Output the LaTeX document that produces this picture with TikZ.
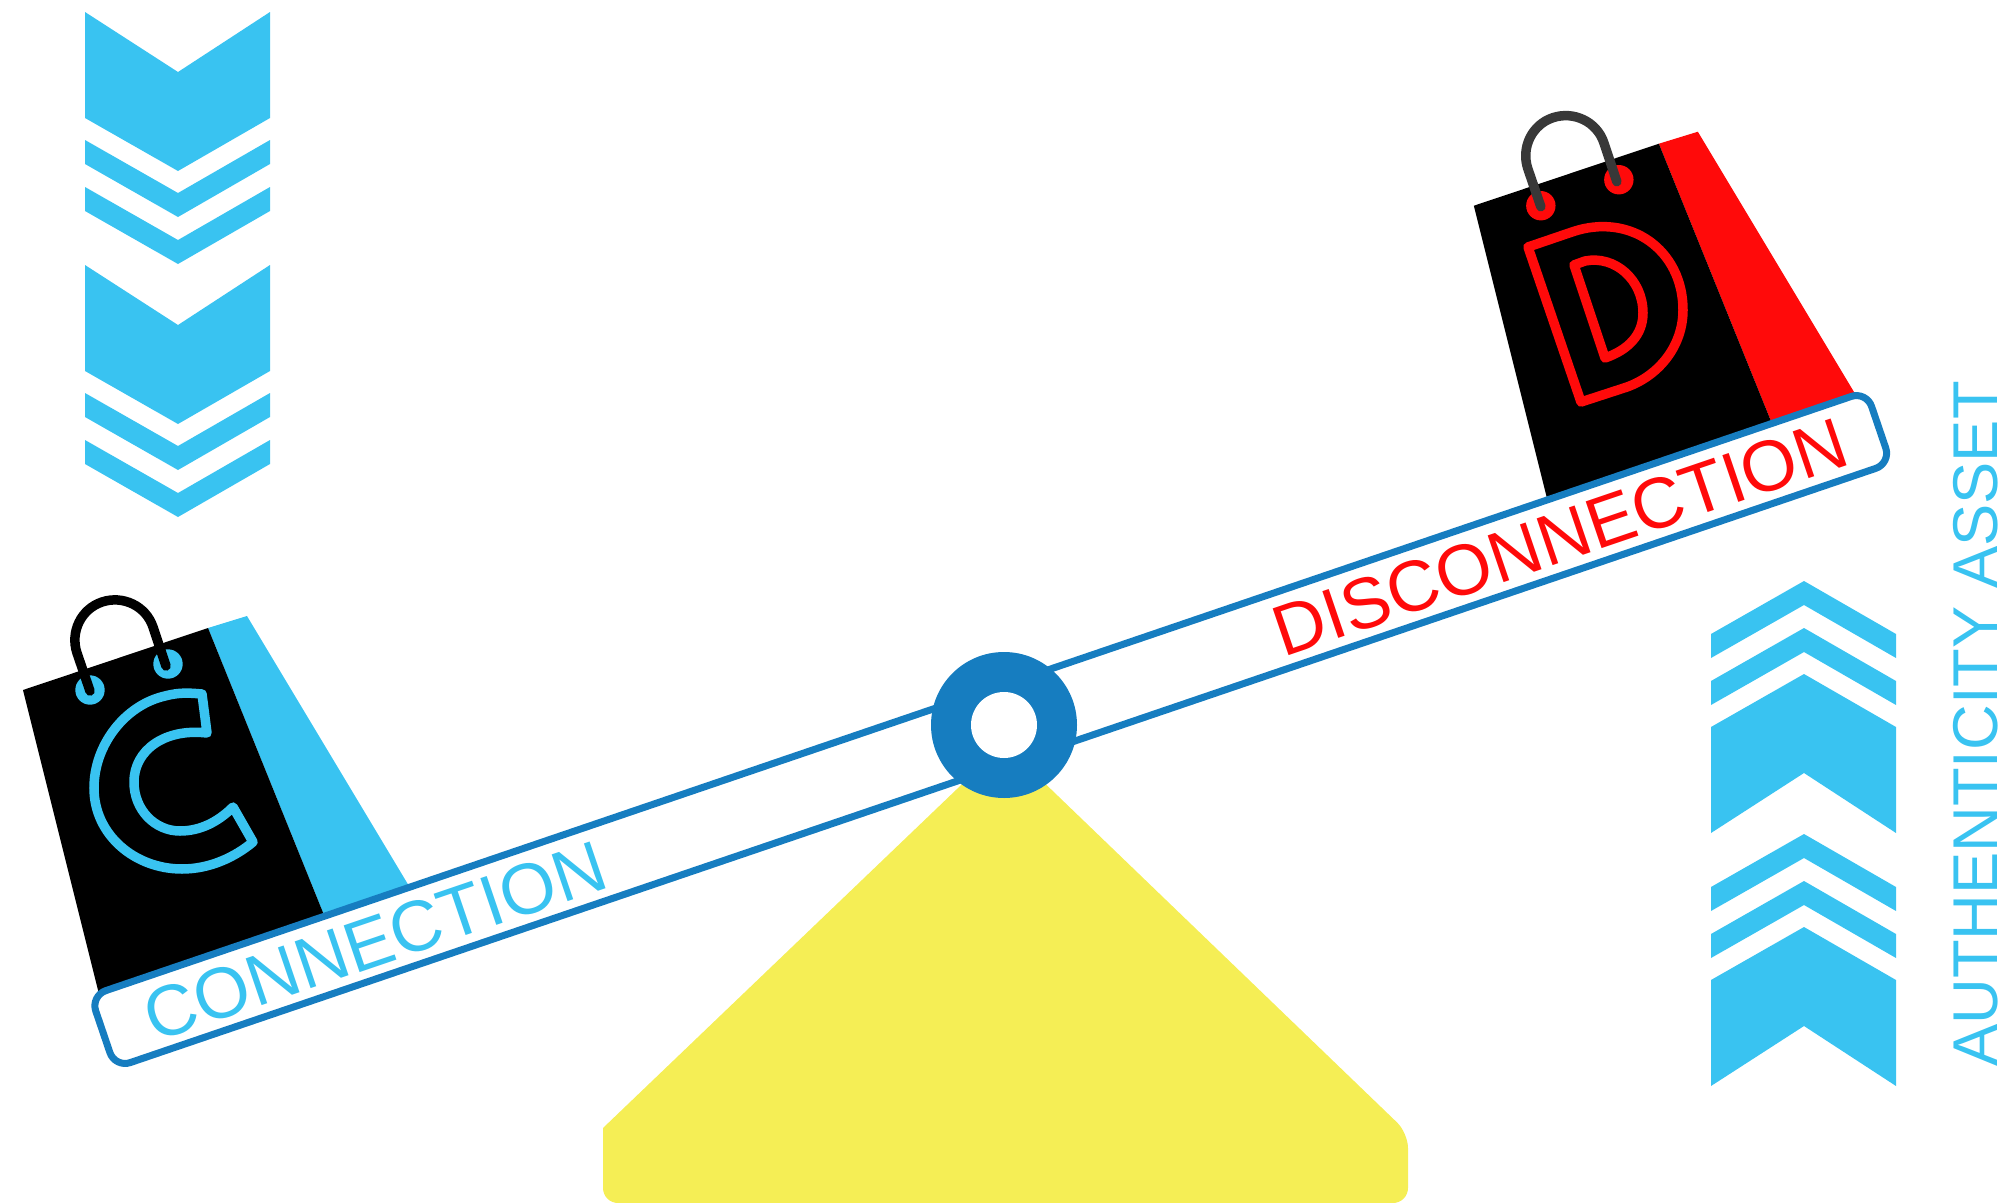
\documentclass[tikz,border=0pt]{standalone}
\usepackage{xcolor}
\usepackage{fontspec}
\setmainfont{Liberation Sans}
\definecolor{accCyan}{HTML}{39C3F1}
\definecolor{accBeam}{HTML}{167DC0}
\definecolor{accRed}{HTML}{FF0A0A}
\definecolor{accYellow}{HTML}{F5EE55}
\definecolor{handleGrey}{HTML}{383838}
\tikzset{
  bagletter/.style={line width=0.095cm, line join=round},
  baghandle/.style={line width=0.095cm, line cap=round},
  beamlabel/.style={rotate=18.8, inner sep=0pt, font=\fontsize{20.4}{24}\selectfont},
}
% one group of three chevrons, pointing down
\newcommand{\chevrongroup}{%
  \foreach \gy in {0, 253} {
    \fill[accCyan] (85, 12+\gy) -- (178, 72+\gy) -- (270, 12+\gy) -- (270, 118+\gy)
      -- (178, 171+\gy) -- (85, 118+\gy) -- cycle;
    \foreach \ty in {0, 47} {
      \fill[accCyan] (85, 140+\gy+\ty) -- (178, 193+\gy+\ty) -- (270, 140+\gy+\ty)
        -- (270, 164+\gy+\ty) -- (178, 217+\gy+\ty) -- (85, 164+\gy+\ty) -- cycle;
    }
  }
}

\begin{document}
\begin{tikzpicture}[x=0.01cm, y=-0.01cm]
  \useasboundingbox (0, 0) rectangle (2005, 1203);

  % chevrons, left and right
  \chevrongroup
  \begin{scope}[shift={(1626, 1098)}, yscale=-1]
    \chevrongroup
  \end{scope}

  % stand
  \fill[accYellow, rounded corners=0.15cm]
    (618, 1203) -- (603, 1203) [sharp corners] -- (603, 1128)
    [rounded corners=0.3cm] -- (1004, 744) [rounded corners=0.15cm] -- (1408, 1133)
    -- (1408, 1203) -- cycle;

  % bags
  \foreach \bx/\by/\sidecol/\handlecol in {0/0/accCyan/black, 14.5/4.84/accRed/handleGrey} {
    \begin{scope}[xshift=\bx cm, yshift=\by cm]
      \fill[\sidecol] (208, 628) -- (247, 616) -- (412, 891) -- (326, 920) -- cycle;
      \fill[black] (23, 690) -- (208, 628) -- (326, 920) -- (100, 998) -- cycle;
      \fill[\sidecol] (90, 690) circle (14.7) (168, 664) circle (14.7);
      \draw[baghandle, \handlecol] (90, 691) -- (77, 653)
        .. controls (70, 632) and (81, 609) .. (102, 602)
        .. controls (123, 595) and (146, 606) .. (153, 627) -- (166, 666);
    \end{scope}
  }

  % letter C
  \draw[bagletter, accCyan] (202, 694) -- (207, 733)
    .. controls (165, 728) and (134, 750) .. (134, 782)
    .. controls (134, 810) and (155, 831) .. (180, 831)
    .. controls (200, 831) and (218, 822) .. (233, 807) -- (253, 842)
    .. controls (235, 857) and (210, 869) .. (182, 869)
    .. controls (135, 869) and (94, 835) .. (94, 788)
    .. controls (94, 745) and (125, 705) .. (165, 696)
    .. controls (180, 692) and (190, 693) .. cycle;

  % letter D
  \draw[bagletter, accRed] (1528, 247) -- (1572, 232)
    .. controls (1630, 212) and (1683, 250) .. (1683, 310)
    .. controls (1683, 345) and (1660, 375) .. (1627, 387) -- (1581, 402) -- cycle;
  \draw[bagletter, accRed] (1574, 265) -- (1585, 261)
    .. controls (1615, 255) and (1643, 280) .. (1643, 313)
    .. controls (1643, 335) and (1628, 350) .. (1605, 358) -- cycle;

  % beam
  \begin{scope}[shift={(1004, 725)}, rotate=18.8]
    \draw[accBeam, fill=white, line width=0.07cm, rounded corners=0.16cm]
      (-952, -38) rectangle (924, 38);
  \end{scope}
  \node[beamlabel, text=accCyan] (connectlabel) at (375, 941) {CONNECTION};
  \node[beamlabel, text=accRed] (disconnectlabel) at (1560, 537) {DISCONNECTION};

  % pivot
  \fill[accBeam] (1004, 725) circle (73);
  \fill[white] (1004, 725) circle (33);

  % axis label
  \node[rotate=90, inner sep=0pt, text=accCyan, font=\fontsize{18}{22}\selectfont]
    (assetlabel) at (1976, 724) {AUTHENTICITY ASSET};
\end{tikzpicture}
\end{document}
